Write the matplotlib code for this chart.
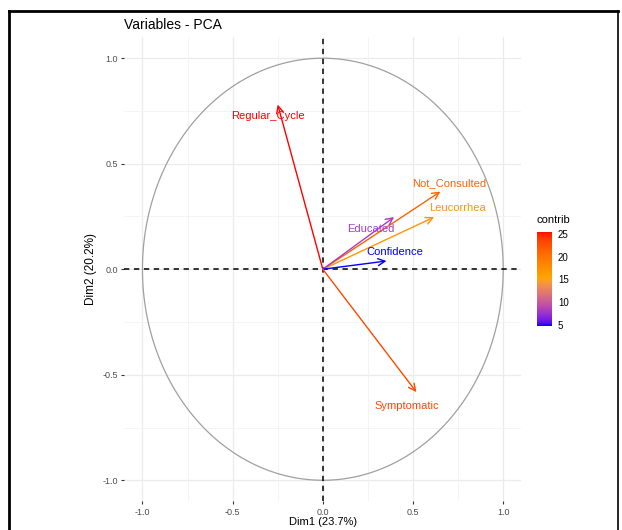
import numpy as np
import matplotlib
matplotlib.use("Agg")
import matplotlib.pyplot as plt
from matplotlib.colors import LinearSegmentedColormap, Normalize
from matplotlib.lines import Line2D

# ---- data ----
variables = ["Regular_Cycle", "Not_Consulted", "Leucorrhea", "Educated", "Confidence", "Symptomatic"]
dim1 = [-0.25, 0.652, 0.617, 0.395, 0.353, 0.519]
dim2 = [0.78, 0.368, 0.247, 0.247, 0.039, -0.582]
contrib = [25.5, 21.3, 16.8, 8.2, 4.8, 23.1]
label_x = [-0.305, 0.698, 0.748, 0.266, 0.399, 0.465]
label_y = [0.726, 0.41, 0.288, 0.193, 0.080, -0.646]
ticks = [-1.0, -0.5, 0.0, 0.5, 1.0]
minor_ticks = [-0.75, -0.25, 0.25, 0.75]
cbar_ticks = [5, 10, 15, 20, 25]
title = "Variables - PCA"
xlabel = "Dim1 (23.7%)"
ylabel = "Dim2 (20.2%)"
grad_cols = ["#0000FF", "#FFA500", "#FF0000"]

plt.rcParams['font.family'] = ['Liberation Sans', 'DejaVu Sans']

# Lab-space interpolated gradient (like ggplot's gradientn)
def srgb_to_lab(c):
    c = np.array(matplotlib.colors.to_rgb(c))
    lin = np.where(c <= 0.04045, c / 12.92, ((c + 0.055) / 1.055) ** 2.4)
    M = np.array([[0.4124, 0.3576, 0.1805], [0.2126, 0.7152, 0.0722], [0.0193, 0.1192, 0.9505]])
    xyz = M @ lin / np.array([0.95047, 1.0, 1.08883])
    f = np.where(xyz > 0.008856, np.cbrt(xyz), 7.787 * xyz + 16 / 116)
    return np.array([116 * f[1] - 16, 500 * (f[0] - f[1]), 200 * (f[1] - f[2])])

def lab_to_srgb(lab):
    L, a, b = lab
    fy = (L + 16) / 116
    fx = fy + a / 500
    fz = fy - b / 200
    f = np.array([fx, fy, fz])
    xyz = np.where(f ** 3 > 0.008856, f ** 3, (f - 16 / 116) / 7.787) * np.array([0.95047, 1.0, 1.08883])
    Mi = np.array([[3.2406, -1.5372, -0.4986], [-0.9689, 1.8758, 0.0415], [0.0557, -0.2040, 1.0570]])
    lin = Mi @ xyz
    lin = np.clip(lin, 0, 1)
    c = np.where(lin <= 0.0031308, 12.92 * lin, 1.055 * lin ** (1 / 2.4) - 0.055)
    return np.clip(c, 0, 1)

labs = [srgb_to_lab(c) for c in grad_cols]
stops = []
n = 64
for i in range(len(labs) - 1):
    for t in np.linspace(0, 1, n, endpoint=(i == len(labs) - 2)):
        stops.append(lab_to_srgb(labs[i] * (1 - t) + labs[i + 1] * t))
cmap = LinearSegmentedColormap.from_list("contrib", stops)
norm = Normalize(vmin=min(contrib), vmax=max(contrib))

fig = plt.figure(figsize=(6.22, 5.30), dpi=100)
ax = fig.add_axes([0.200, 0.054, 0.638, 0.876])
ax.set_xlim(-1.1, 1.1)
ax.set_ylim(-1.1, 1.1)

grid_col = "#EBEBEB"
for t in ticks:
    ax.axvline(t, color=grid_col, lw=0.9, zorder=0)
    ax.axhline(t, color=grid_col, lw=0.9, zorder=0)
for t in minor_ticks:
    ax.axvline(t, color="#F3F3F3", lw=0.6, zorder=0)
    ax.axhline(t, color="#F3F3F3", lw=0.6, zorder=0)

# correlation circle
th = np.linspace(0, 2 * np.pi, 400)
ax.plot(np.cos(th), np.sin(th), color="#A0A0A0", lw=0.9, zorder=1)

# dashed axes
ax.axhline(0, color="black", lw=1.1, ls=(0, (3.5, 3)), zorder=2)
ax.axvline(0, color="black", lw=1.1, ls=(0, (3.5, 3)), zorder=2)

for name, x, y, c, lx, ly in zip(variables, dim1, dim2, contrib, label_x, label_y):
    col = cmap(norm(c))
    ax.annotate("", xy=(x, y), xytext=(0, 0),
                arrowprops=dict(arrowstyle="->,head_length=0.5,head_width=0.25",
                                color=col, lw=1.0, shrinkA=0, shrinkB=0), zorder=3)
    ax.text(lx, ly, name, color=col, fontsize=8, ha="center", va="center", zorder=4)

for s in ax.spines.values():
    s.set_visible(False)
ax.set_xticks(ticks)
ax.set_yticks(ticks)
ax.set_xticklabels([f"{t:.1f}" for t in ticks])
ax.set_yticklabels([f"{t:.1f}" for t in ticks])
ax.tick_params(axis="both", colors="#333333", labelcolor="#4D4D4D", labelsize=6.5, length=2.5, width=0.8, pad=2)
ax.set_xlabel(xlabel, fontsize=8, color="black", labelpad=0.5)
ax.set_ylabel(ylabel, fontsize=8.5, color="black", labelpad=4)
fig.text(0.200, 0.952, title, fontsize=10, ha="left", va="center")

# colorbar
cax = fig.add_axes([0.863, 0.385, 0.024, 0.178])
sm = matplotlib.cm.ScalarMappable(norm=norm, cmap=cmap)
cb = fig.colorbar(sm, cax=cax, ticks=cbar_ticks)
cb.outline.set_visible(False)
cb.ax.tick_params(labelsize=7, length=2.5, color="white", width=0.8, pad=2)
fig.text(0.863, 0.585, "contrib", fontsize=8, ha="left", va="center")

# image frame
fig.add_artist(Line2D([0.015, 0.015], [0.0, 0.979], transform=fig.transFigure, color="black", lw=2))
fig.add_artist(Line2D([0.015, 0.994], [0.979, 0.979], transform=fig.transFigure, color="black", lw=2))
fig.add_artist(Line2D([0.994, 0.994], [0.0, 0.979], transform=fig.transFigure, color="black", lw=1.2))

fig.savefig("out.png", dpi=100, facecolor="white")
